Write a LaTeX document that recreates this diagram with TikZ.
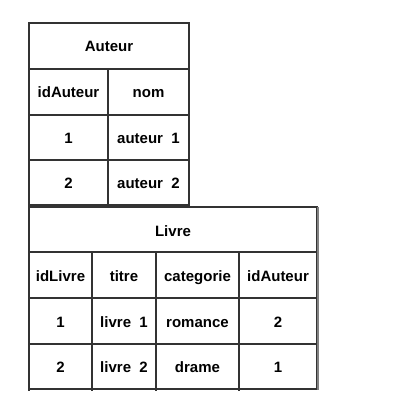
\documentclass[tikz,border=0pt]{standalone}
\usepackage{fontspec}
\setmainfont{Liberation Sans}[BoldFont={Liberation Sans Bold}]
\begin{document}
\begin{tikzpicture}[x=1pt,y=-1pt,
  grid/.style={draw=black!80,line width=1.1pt},
  cell/.style={font=\fontsize{15}{17}\selectfont\bfseries,text=black,inner sep=0pt,
    text height=11pt,text depth=0pt,anchor=center}]
\useasboundingbox (0,0) rectangle (400,417);
% Auteur table
\draw[grid] (29,23) rectangle (189,205);
\draw[grid] (29,69) -- (189,69);
\draw[grid] (29,115) -- (189,115);
\draw[grid] (29,160) -- (189,160);
\draw[grid] (108,69) -- (108,205);
\node[cell] (ta) at (109,46) {Auteur};
\node[cell] (a11) at (68.5,92) {idAuteur};
\node[cell] (a12) at (148.5,92) {nom};
\node[cell] (a21) at (68.5,138) {1};
\node[cell] (a22) at (148.5,138) {auteur\ \ 1};
\node[cell] (a31) at (68.5,183) {2};
\node[cell] (a32) at (148.5,183) {auteur\ \ 2};
% Livre table
\draw[grid] (29,207) rectangle (317,389);
\draw[draw=black!50,line width=2pt] (317.5,207) -- (317.5,390);
\draw[grid] (29,252) -- (317,252);
\draw[grid] (29,298) -- (317,298);
\draw[grid] (29,344) -- (317,344);
\draw[grid] (92,252) -- (92,391);
\draw[grid] (156,252) -- (156,391);
\draw[grid] (239,252) -- (239,391);
\draw[grid] (29,389) -- (29,391);
\node[cell] (tl) at (173,231) {Livre};
\node[cell] (l11) at (60.5,276) {idLivre};
\node[cell] (l12) at (124,276) {titre};
\node[cell] (l13) at (197.5,276) {categorie};
\node[cell] (l14) at (278,276) {idAuteur};
\node[cell] (l21) at (60.5,322) {1};
\node[cell] (l22) at (124,322) {livre\ \ 1};
\node[cell] (l23) at (197.5,322) {romance};
\node[cell] (l24) at (278,322) {2};
\node[cell] (l31) at (60.5,367) {2};
\node[cell] (l32) at (124,367) {livre\ \ 2};
\node[cell] (l33) at (197.5,367) {drame};
\node[cell] (l34) at (278,367) {1};
\end{tikzpicture}
\end{document}
